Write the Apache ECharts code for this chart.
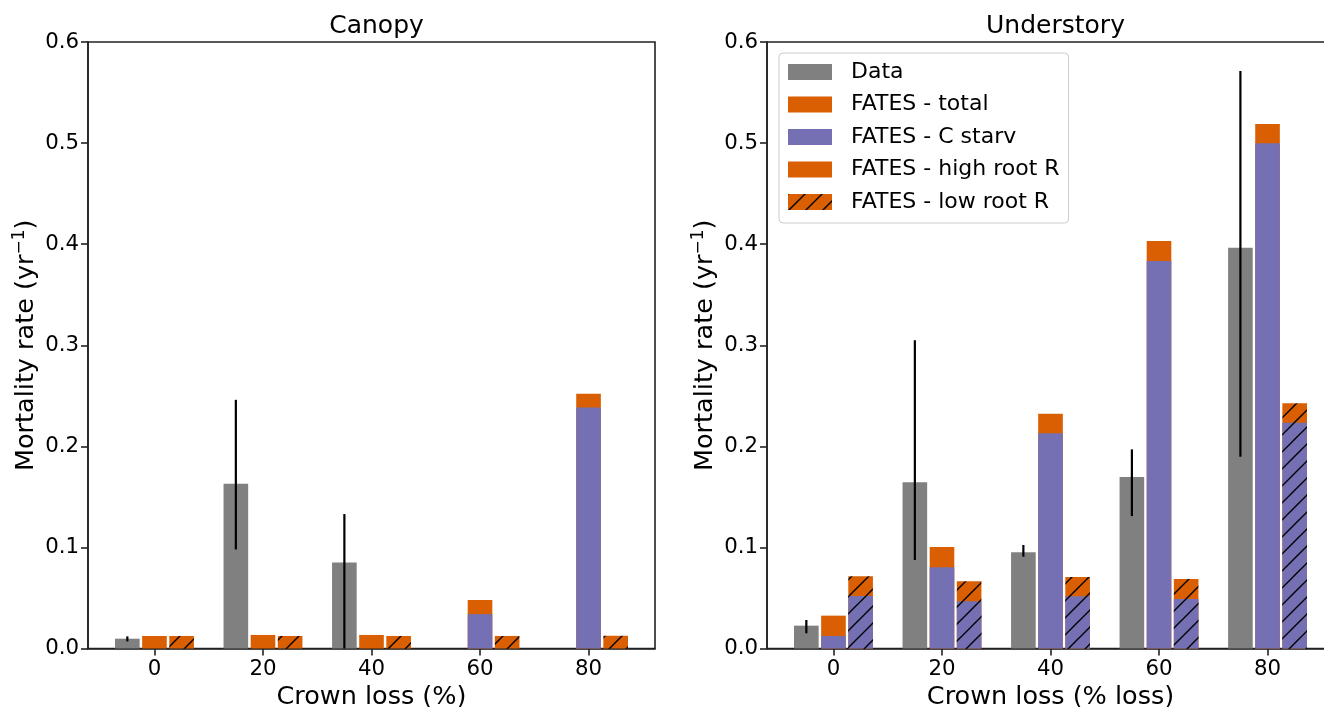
<!DOCTYPE html>
<html>
<head>
<meta charset="utf-8">
<script src="https://cdn.jsdelivr.net/npm/echarts@6/dist/echarts.min.js"></script>
<style>html,body{margin:0;padding:0;background:#fff;}#c{width:1324px;height:707px;}</style>
</head>
<body>
<div id="c"></div>
<script>
// ---- data ----
const crownLoss = [0, 20, 40, 60, 80];
const yTicks = [0, 0.1, 0.2, 0.3, 0.4, 0.5, 0.6];

// Canopy
const canopyData     = [0.0097, 0.163, 0.085, null, null];
const canopyDataLo   = [0.007, 0.098, 0.0, null, null];
const canopyDataHi   = [0.012, 0.246, 0.133, null, null];
const canopyHighTot  = [0.0124, 0.0134, 0.0134, 0.048, 0.252];
const canopyHighC    = [0, 0, 0, 0.034, 0.2385];
const canopyLowTot   = [0.0124, 0.0124, 0.0124, 0.0124, 0.0126];
const canopyLowC     = [0, 0, 0, 0, 0];

// Understory
const underData      = [0.0226, 0.1644, 0.0951, 0.1697, 0.3964];
const underDataLo    = [0.015, 0.0875, 0.0908, 0.131, 0.1898];
const underDataHi    = [0.0282, 0.305, 0.1024, 0.197, 0.5713];
const underHighTot   = [0.0325, 0.1004, 0.2323, 0.4031, 0.5189];
const underHighC     = [0.0124, 0.0803, 0.2129, 0.3834, 0.4999];
const underLowTot    = [0.0714, 0.0665, 0.0707, 0.0688, 0.2426];
const underLowC      = [0.052, 0.0467, 0.0516, 0.049, 0.2234];

const legendNames = ['Data', 'FATES - total', 'FATES - C starv', 'FATES - high root R', 'FATES - low root R'];

// ---- styles ----
const GRAY = '#808080', ORANGE = '#d95f02', PURPLE = '#7570b3';
const FONT = 'DejaVu Sans';
const AXC = '#222';
const TICK_FS = 21.3, LABEL_FS = 25.5;

function hatch(bg) {
  const s = 17;
  const c = document.createElement('canvas');
  c.width = s; c.height = s;
  const g = c.getContext('2d');
  g.fillStyle = bg; g.fillRect(0, 0, s, s);
  g.strokeStyle = '#000'; g.lineWidth = 1.4;
  g.beginPath();
  g.moveTo(-2, s + 2); g.lineTo(s + 2, -2);
  g.moveTo(-2, 2); g.lineTo(2, -2);
  g.moveTo(s - 2, s + 2); g.lineTo(s + 2, s - 2);
  g.stroke();
  return { image: c, repeat: 'repeat' };
}
const HATCH_OR = hatch(ORANGE), HATCH_PU = hatch(PURPLE);

const STEP = 5;   // bar pitch in x units (0.25 of group spacing 20)
function barSeries(name, gi, vals, offset, fill, z) {
  const data = [];
  crownLoss.forEach((x, i) => { if (vals[i] !== null && vals[i] > 0) data.push([x, vals[i]]); });
  return {
    type: 'custom', name, xAxisIndex: gi, yAxisIndex: gi, z,
    itemStyle: { color: fill },
    encode: { x: 0, y: 1 },
    data,
    renderItem: function (params, api) {
      const x = api.value(0) + offset, v = api.value(1);
      const p0 = api.coord([x, 0]), p1 = api.coord([x, v]);
      const w = api.size([STEP, 0])[0] - 2.5;
      return { type: 'rect', shape: { x: p0[0] - w / 2, y: p1[1], width: w, height: p0[1] - p1[1] },
               style: { fill: fill } };
    }
  };
}
function errSeries(gi, lo, hi) {
  const data = [];
  crownLoss.forEach((x, i) => { if (lo[i] !== null) data.push([x, lo[i], hi[i]]); });
  return {
    type: 'custom', name: 'Data error', xAxisIndex: gi, yAxisIndex: gi, z: 10,
    encode: { x: 0, y: [1, 2] },
    data,
    renderItem: function (params, api) {
      const x = api.value(0) - STEP;
      const a = api.coord([x, api.value(1)]), b = api.coord([x, api.value(2)]);
      return { type: 'line', shape: { x1: a[0], y1: a[1], x2: b[0], y2: b[1] },
               style: { stroke: '#000', lineWidth: 2.2 } };
    }
  };
}

function panelSeries(gi, d, hT, hC, lT, lC) {
  return [
    barSeries('Data', gi, d, -STEP, GRAY, 2),
    barSeries('FATES - high root R', gi, hT, 0, ORANGE, 2),
    barSeries('FATES - C starv', gi, hC, 0, PURPLE, 3),
    barSeries('FATES - low root R', gi, lT, STEP, HATCH_OR, 2),
    barSeries('FATES - C starv', gi, lC, STEP, HATCH_PU, 3)
  ];
}

const series = [
  ...panelSeries(0, canopyData, canopyHighTot, canopyHighC, canopyLowTot, canopyLowC),
  errSeries(0, canopyDataLo, canopyDataHi),
  ...panelSeries(1, underData, underHighTot, underHighC, underLowTot, underLowC),
  errSeries(1, underDataLo, underDataHi),
  { type: 'custom', name: 'FATES - total', xAxisIndex: 1, yAxisIndex: 1, itemStyle: { color: ORANGE },
    data: [], renderItem: function () { return null; } }
];

const legendColors = [GRAY, ORANGE, PURPLE, ORANGE, HATCH_OR];

function xAxis(gi, name) {
  return {
    type: 'value', gridIndex: gi, min: -12.25, max: 92.25,
    name, nameLocation: 'middle', nameGap: 33,
    nameTextStyle: { fontFamily: FONT, fontSize: LABEL_FS, color: '#000' },
    axisLine: { show: true, onZero: false, lineStyle: { color: AXC, width: 1.6 } },
    axisTick: { show: true, length: 7, lineStyle: { color: AXC, width: 1.6 }, customValues: crownLoss },
    axisLabel: { fontFamily: FONT, fontSize: TICK_FS, color: '#000', margin: 10, customValues: crownLoss },
    splitLine: { show: false }
  };
}
function yAxis(gi) {
  return {
    type: 'value', gridIndex: gi, min: 0, max: 0.6, interval: 0.1,
    name: 'Mortality rate (yr{sup|\u22121})', nameLocation: 'middle', nameGap: 46,
    nameTextStyle: { fontFamily: FONT, fontSize: LABEL_FS, color: '#000', lineHeight: 30,
      rich: { sup: { fontFamily: FONT, fontSize: 17, color: '#000', verticalAlign: 'top', lineHeight: 16 } } },
    axisLine: { show: true, onZero: false, lineStyle: { color: AXC, width: 1.6 } },
    axisTick: { show: true, length: 7, lineStyle: { color: AXC, width: 1.6 }, customValues: yTicks },
    axisLabel: { fontFamily: FONT, fontSize: TICK_FS, color: '#000', margin: 9, customValues: yTicks,
      formatter: v => v.toFixed(1) },
    splitLine: { show: false }
  };
}

const gridBase = { top: 42, width: 567, height: 606.5, show: true, borderColor: AXC, borderWidth: 1.6,
  backgroundColor: 'transparent', containLabel: false, outerBoundsMode: 'none' };

const chart = echarts.init(document.getElementById('c'), null, { renderer: 'canvas' });
chart.setOption({
  animation: false,
  backgroundColor: '#fff',
  title: [
    { text: 'Canopy', left: 371.5, top: 9, textAlign: 'center',
      textStyle: { fontFamily: FONT, fontSize: 25, fontWeight: 'normal', color: '#000' } },
    { text: 'Understory', left: 1050.5, top: 9, textAlign: 'center',
      textStyle: { fontFamily: FONT, fontSize: 25, fontWeight: 'normal', color: '#000' } }
  ],
  grid: [
    Object.assign({ left: 88 }, gridBase),
    Object.assign({ left: 767 }, gridBase)
  ],
  xAxis: [xAxis(0, 'Crown loss (%)'), xAxis(1, 'Crown loss (% loss)')],
  yAxis: [yAxis(0), yAxis(1)],
  legend: {
    left: 779, top: 53, orient: 'vertical', icon: 'rect', selectedMode: false,
    itemWidth: 44, itemHeight: 16, itemGap: 10.5,
    padding: [8, 9, 10, 9],
    backgroundColor: 'rgba(255,255,255,0.8)', borderColor: '#cccccc', borderWidth: 1, borderRadius: 4,
    textStyle: { fontFamily: FONT, fontSize: 22, color: '#000', padding: [0, 0, 0, 14] },
    data: legendNames.map((n, i) => ({ name: n, itemStyle: { color: legendColors[i], borderWidth: 0 } }))
  },
  series
});
</script>
</body>
</html>
